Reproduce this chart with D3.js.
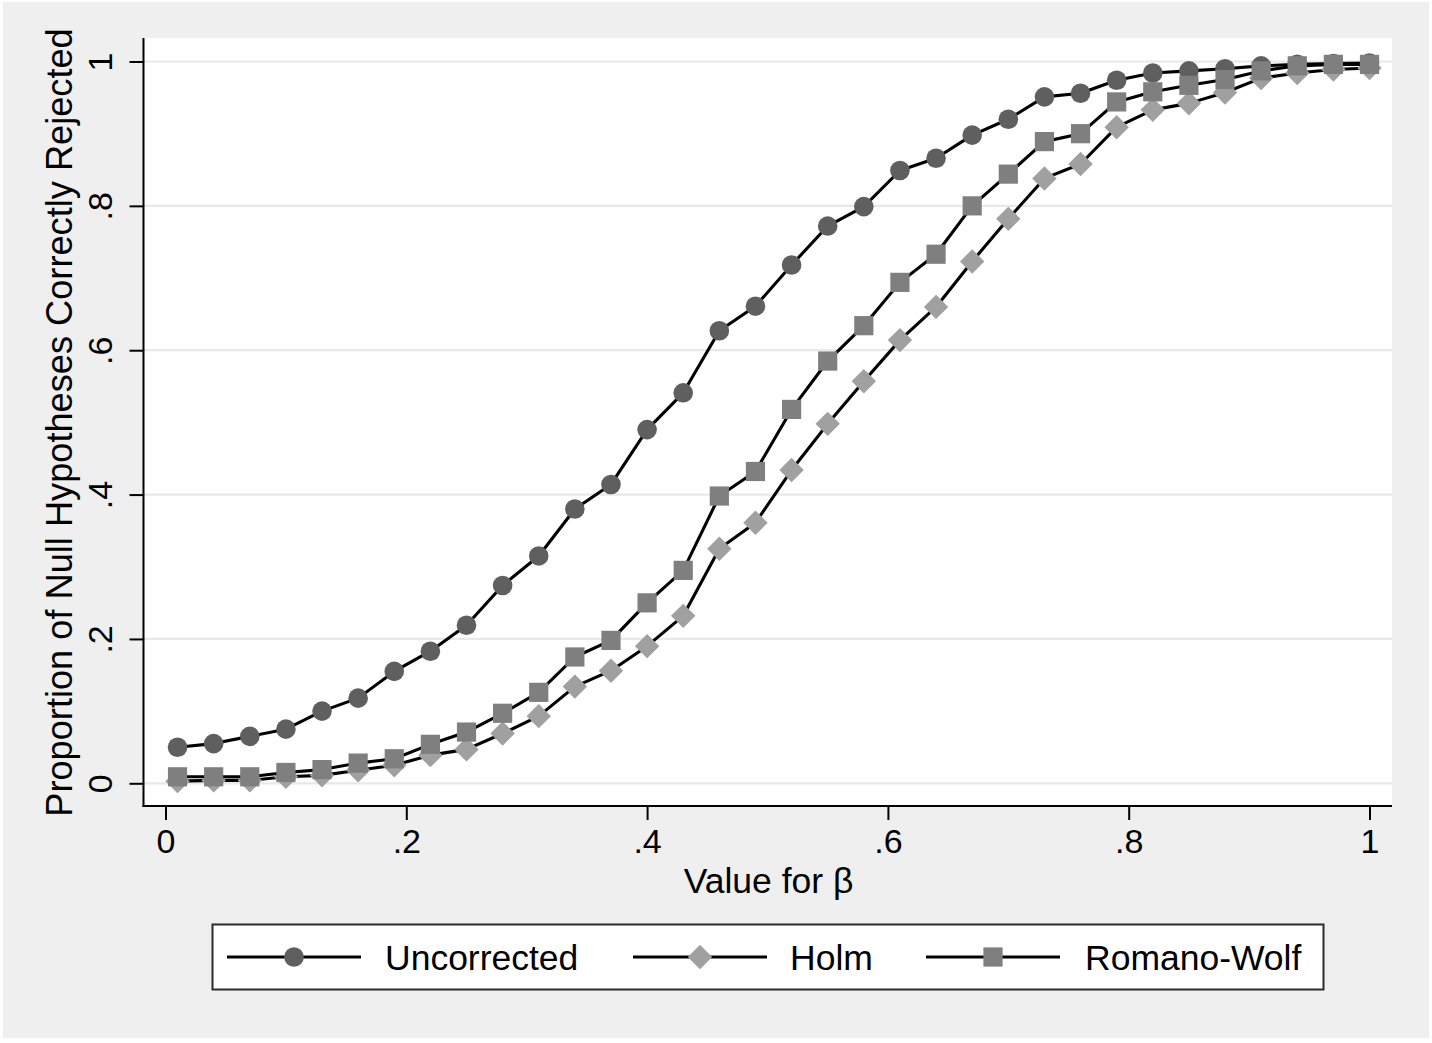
<!DOCTYPE html>
<html>
<head>
<meta charset="utf-8">
<script src="https://cdn.jsdelivr.net/npm/d3@7"></script>
<style>
  html, body { margin: 0; padding: 0; background: #ffffff; }
  svg { display: block; font-family: "Liberation Sans", Arial, Helvetica, sans-serif; }
</style>
</head>
<body>
<svg id="chart" width="1432" height="1043"></svg>
<script>
// ---------- data ----------
const betaValues = [0.01, 0.04, 0.07, 0.10, 0.13, 0.16, 0.19, 0.22, 0.25, 0.28, 0.31, 0.34,
                    0.37, 0.40, 0.43, 0.46, 0.49, 0.52, 0.55, 0.58, 0.61, 0.64, 0.67, 0.70,
                    0.73, 0.76, 0.79, 0.82, 0.85, 0.88, 0.91, 0.94, 0.97, 1.00];
const uncorrected = [0.050, 0.055, 0.065, 0.075, 0.100, 0.118, 0.155, 0.183, 0.219, 0.274, 0.315, 0.380,
                     0.414, 0.490, 0.541, 0.627, 0.661, 0.718, 0.772, 0.799, 0.849, 0.866, 0.898, 0.920,
                     0.951, 0.956, 0.974, 0.984, 0.987, 0.990, 0.994, 0.996, 0.997, 0.998];
const holm = [0.003, 0.004, 0.004, 0.009, 0.011, 0.018, 0.025, 0.039, 0.047, 0.069, 0.093, 0.134,
              0.156, 0.190, 0.232, 0.325, 0.361, 0.434, 0.498, 0.557, 0.614, 0.660, 0.723, 0.782,
              0.838, 0.858, 0.909, 0.933, 0.942, 0.957, 0.977, 0.984, 0.989, 0.991];
const romanoWolf = [0.009, 0.009, 0.009, 0.015, 0.019, 0.028, 0.034, 0.054, 0.071, 0.097, 0.126, 0.175,
                    0.198, 0.250, 0.295, 0.398, 0.432, 0.518, 0.585, 0.634, 0.694, 0.733, 0.800, 0.844,
                    0.889, 0.900, 0.944, 0.958, 0.967, 0.975, 0.987, 0.994, 0.996, 0.996];
const seriesNames = ["Uncorrected", "Holm", "Romano-Wolf"];
const xTicks = [0, 0.2, 0.4, 0.6, 0.8, 1];
const yTicks = [0, 0.2, 0.4, 0.6, 0.8, 1];
const xTickLabels = ["0", ".2", ".4", ".6", ".8", "1"];
const yTickLabels = ["0", ".2", ".4", ".6", ".8", "1"];
const xTitle = "Value for \u03B2";
const yTitle = "Proportion of Null Hypotheses Correctly Rejected";

// ---------- layout / style ----------
const W = 1432, H = 1043;
const plot = { left: 144, top: 38, right: 1392, bottom: 806 };
const colors = { Uncorrected: "#5f5f5f", Holm: "#a0a0a0", "Romano-Wolf": "#7f7f7f" };
const shapes = { Uncorrected: "circle", Holm: "diamond", "Romano-Wolf": "square" };

const svg = d3.select("#chart");

// outer background
svg.append("rect").attr("x", 3).attr("y", 2).attr("width", 1426).attr("height", 1036)
   .attr("fill", "#efefef");
// plot region
svg.append("rect").attr("x", plot.left).attr("y", plot.top)
   .attr("width", plot.right - plot.left).attr("height", plot.bottom - plot.top)
   .attr("fill", "#ffffff");

const x = d3.scaleLinear().domain([0, 1]).range([165.5, 1369.5]);
const y = d3.scaleLinear().domain([0, 1]).range([783.3, 61.5]);

// gridlines
svg.append("g").selectAll("line").data(yTicks).join("line")
  .attr("x1", plot.left).attr("x2", plot.right)
  .attr("y1", d => y(d)).attr("y2", d => y(d))
  .attr("stroke", "#e8e8e8").attr("stroke-width", 2.2);

// axes
const fmtX = d => xTickLabels[xTicks.indexOf(d)];
const fmtY = d => yTickLabels[yTicks.indexOf(d)];

const gx = svg.append("g").attr("transform", `translate(0,${plot.bottom})`)
  .call(d3.axisBottom(x).tickValues(xTicks).tickFormat(fmtX).tickSize(14).tickSizeOuter(0));
gx.select(".domain").remove();
gx.selectAll(".tick line").attr("stroke", "#000").attr("stroke-width", 2);
gx.selectAll(".tick text")
  .attr("y", 47).attr("dy", null)
  .attr("font-size", 34).attr("fill", "#000")
  .attr("font-family", "Liberation Sans, Arial, sans-serif");

const gy = svg.append("g").attr("transform", `translate(${plot.left - 0.5},0)`)
  .call(d3.axisLeft(y).tickValues(yTicks).tickFormat(fmtY).tickSize(14).tickSizeOuter(0));
gy.select(".domain").remove();
gy.selectAll(".tick line").attr("stroke", "#000").attr("stroke-width", 2);
gy.selectAll(".tick text")
  .attr("transform", "rotate(-90)")
  .attr("x", 0).attr("y", -32).attr("dy", null).attr("dx", null)
  .attr("text-anchor", "middle")
  .attr("font-size", 34).attr("fill", "#000")
  .attr("font-family", "Liberation Sans, Arial, sans-serif");

// axis lines
svg.append("line").attr("x1", plot.left - 0.5).attr("x2", plot.left - 0.5)
   .attr("y1", plot.top).attr("y2", plot.bottom + 1)
   .attr("stroke", "#000").attr("stroke-width", 2);
svg.append("line").attr("x1", plot.left - 1.5).attr("x2", plot.right)
   .attr("y1", plot.bottom).attr("y2", plot.bottom)
   .attr("stroke", "#000").attr("stroke-width", 2);

// axis titles
svg.append("text").attr("x", 768.5).attr("y", 893)
   .attr("text-anchor", "middle").attr("font-size", 35.5).attr("fill", "#000")
   .text(xTitle);
svg.append("text").attr("transform", "translate(72,422.5) rotate(-90)")
   .attr("text-anchor", "middle").attr("font-size", 36.2).attr("fill", "#000")
   .text(yTitle);

// marker drawer
function markerPath(shape) {
  if (shape === "circle") return d3.symbol().type(d3.symbolCircle).size(Math.PI * 9.8 * 9.8)();
  if (shape === "square") return "M-9.6,-9.6H9.6V9.6H-9.6Z";
  return "M0,-12.2L12.2,0L0,12.2L-12.2,0Z";
}

const seriesData = [
  { name: "Uncorrected", values: uncorrected },
  { name: "Holm", values: holm },
  { name: "Romano-Wolf", values: romanoWolf }
];

const line = d3.line().x(d => x(d[0])).y(d => y(d[1]));

seriesData.forEach(s => {
  const pts = betaValues.map((b, i) => [b, s.values[i]]);
  const g = svg.append("g");
  g.append("path").attr("d", line(pts)).attr("fill", "none")
   .attr("stroke", "#000").attr("stroke-width", 3.1).attr("stroke-linejoin", "round");
  g.selectAll("path.m").data(pts).join("path").attr("class", "m")
   .attr("transform", d => `translate(${x(d[0])},${y(d[1])})`)
   .attr("d", markerPath(shapes[s.name]))
   .attr("fill", colors[s.name]);
});

// legend
const legend = svg.append("g");
legend.append("rect").attr("x", 212.5).attr("y", 924.5).attr("width", 1111).attr("height", 65)
  .attr("fill", "#ffffff").attr("stroke", "#2b2b2b").attr("stroke-width", 2);
const keyStarts = [227, 633, 926];
const textStarts = [385, 790, 1085];
seriesNames.forEach((name, i) => {
  const ly = 957;
  legend.append("line").attr("x1", keyStarts[i]).attr("x2", keyStarts[i] + 134)
    .attr("y1", ly).attr("y2", ly).attr("stroke", "#000").attr("stroke-width", 2.8);
  legend.append("path").attr("transform", `translate(${keyStarts[i] + 67},${ly})`)
    .attr("d", markerPath(shapes[name])).attr("fill", colors[name]);
  legend.append("text").attr("x", textStarts[i]).attr("y", 969.5)
    .attr("font-size", 35.5).attr("fill", "#000").text(name);
});
</script>
</body>
</html>
